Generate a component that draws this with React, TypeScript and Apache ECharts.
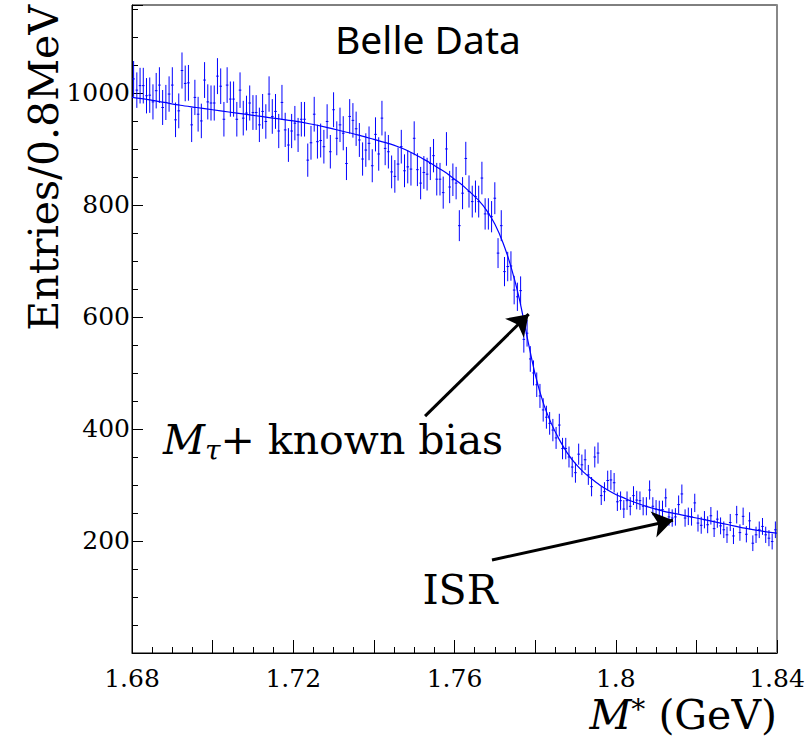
import React, { useEffect, useRef } from "react";
import * as echarts from "echarts";

// Histogram binning (0.8 MeV bins from 1.68 GeV)
const BIN_START = 1.68;
const BIN_WIDTH = 0.0008;

// Entries per bin (200 bins)
const counts: number[] = [
  1025, 1005, 1013, 1013, 995, 996, 984, 1004, 1014, 974,
  983, 998, 1014, 952, 968, 1040, 1017, 1018, 943, 992,
  962, 950, 1023, 984, 982, 982, 1030, 1012, 953, 1014,
  989, 989, 953, 1005,
  955, 964, 982, 965, 965, 943, 967, 949, 998, 958,
  967, 932, 983, 934, 907, 932, 946, 925, 953, 953,
  880, 911, 962, 913, 915, 904, 949, 895, 970, 919,
  943, 928, 874,
  958, 951, 936, 916, 882, 898, 910, 870, 926, 891,
  955, 901, 895, 859, 851, 873, 904, 861, 868, 864,
  919, 863, 839, 858, 855, 874, 888, 846, 846, 822,
  900, 832, 845,
  839, 763, 821, 883, 824, 806, 815, 806, 848, 784,
  784, 779, 812, 714, 763, 681, 690, 691, 648, 636,
  647, 560, 571, 525, 500, 479, 459, 434, 421, 410,
  398, 384,
  407, 365, 365, 350, 332, 322, 355, 336, 345, 318,
  297, 350, 357, 281, 288, 308, 309, 304, 270, 272,
  257, 272, 262, 281, 273, 272, 262, 262, 291, 262,
  257, 256, 256, 277,
  243, 241, 243, 265, 284, 241, 244, 243, 268, 232,
  228, 238, 229, 245, 222, 239, 227, 220, 211, 233,
  209, 247, 215, 244, 212, 236, 196, 211, 220, 226,
  211, 205, 199, 220,
];

// Fit curve
const fitMass: number[] = [
  1.68, 1.684, 1.688, 1.692, 1.696, 1.7, 1.704, 1.708, 1.712, 1.716,
  1.72, 1.724, 1.728, 1.732, 1.736, 1.74, 1.744, 1.746, 1.748, 1.75,
  1.752, 1.754, 1.756, 1.758, 1.76, 1.762, 1.764, 1.766, 1.768, 1.77,
  1.772, 1.774, 1.776, 1.778, 1.78, 1.782, 1.784, 1.786, 1.788, 1.79,
  1.792, 1.794, 1.796, 1.798, 1.8, 1.802, 1.804, 1.808, 1.812, 1.816,
  1.82, 1.824, 1.828, 1.832, 1.836, 1.84,
];
const fitValue: number[] = [
  992, 988, 983, 978, 974, 970, 966, 962, 958, 954,
  950, 945, 939, 932, 925, 917, 909, 904, 898, 891,
  883, 875, 866, 857, 846, 835, 822, 808, 790, 766,
  733, 690, 635, 565, 498, 447, 410, 381, 357, 338,
  323, 311, 300, 291, 283, 277, 271, 261, 253, 247,
  241, 235, 229, 223, 218, 214,
];

// Axis settings
const X_MIN = 1.68;
const X_MAX = 1.84;
const Y_MIN = 0;
const Y_MAX = 1157;

// Annotation arrows [tail, head] in data coordinates
const arrowBias: number[][] = [[1.7527, 423], [1.7784, 605]];
const arrowISR: number[][] = [[1.7693, 166], [1.8142, 237]];

const SERIF = "'DejaVu Serif', 'Liberation Serif', serif";

export default function App() {
  const ref = useRef<HTMLDivElement>(null);

  useEffect(() => {
    document.body.style.margin = "0";
    const chart = echarts.init(ref.current!, null, { renderer: "svg" });

    const points = counts.map((c, i) => [
      BIN_START + BIN_WIDTH * (i + 0.5),
      c,
      Math.sqrt(c),
    ]);
    const fit = fitMass.map((m, i) => [m, fitValue[i]]);

    const xLabelFmt = (v: number) => {
      const k = Math.round((v - X_MIN) / 0.02);
      return k % 2 === 0 ? String(parseFloat(v.toFixed(2))) : "";
    };
    const yLabelFmt = (v: number) =>
      v > 0 && Math.abs(v % 200) < 1e-6 ? String(v) : "";

    const arrowLine = (a: number[][]) => [
      { coord: a[0], symbol: "none" },
      { coord: a[1], symbol: "arrow", symbolSize: 20 },
    ];

    chart.setOption({
      animation: false,
      backgroundColor: "#ffffff",
      grid: {
        left: 132,
        right: 32,
        top: 5,
        bottom: 85,
        show: true,
        borderColor: "#000",
        borderWidth: 1,
        outerBoundsMode: "none",
      },
      xAxis: [
        {
          type: "value",
          min: X_MIN,
          max: X_MAX,
          interval: 0.02,
          position: "bottom",
          axisLine: { show: true, lineStyle: { color: "#000", width: 1 } },
          axisTick: { show: true, inside: true, length: 13, lineStyle: { color: "#000" } },
          axisLabel: {
            formatter: xLabelFmt,
            fontFamily: SERIF,
            fontSize: 25,
            lineHeight: 24,
            color: "#000",
            margin: 13,
          },
          splitLine: { show: false },
        },
        {
          type: "value",
          min: X_MIN,
          max: X_MAX,
          interval: 0.005,
          position: "bottom",
          axisLine: { show: false },
          axisTick: { show: true, inside: true, length: 6, lineStyle: { color: "#000" } },
          axisLabel: { show: false },
          splitLine: { show: false },
        },
      ],
      yAxis: [
        {
          type: "value",
          min: Y_MIN,
          max: Y_MAX,
          interval: 200,
          position: "left",
          axisLine: { show: true, lineStyle: { color: "#000", width: 1 } },
          axisTick: { show: true, inside: true, length: 11, lineStyle: { color: "#000" } },
          axisLabel: {
            formatter: yLabelFmt,
            fontFamily: SERIF,
            fontSize: 25,
            color: "#000",
            margin: 2,
          },
          splitLine: { show: false },
        },
        {
          type: "value",
          min: Y_MIN,
          max: Y_MAX,
          interval: 50,
          position: "left",
          axisLine: { show: false },
          axisTick: { show: true, inside: true, length: 6, lineStyle: { color: "#000" } },
          axisLabel: { show: false },
          splitLine: { show: false },
        },
        {
          type: "value",
          min: Y_MIN,
          max: Y_MAX,
          position: "right",
          axisLine: { show: true, lineStyle: { color: "#888", width: 2 } },
          axisTick: { show: false },
          axisLabel: { show: false },
          splitLine: { show: false },
        },
      ],
      series: [
        {
          type: "custom",
          xAxisIndex: 0,
          yAxisIndex: 0,
          silent: true,
          data: points,
          renderItem: (params: any, api: any) => {
            const x = api.value(0);
            const y = api.value(1);
            const e = api.value(2);
            const p = api.coord([x, y]);
            const t = api.coord([x, y + e]);
            const b = api.coord([x, y - e]);
            return {
              type: "group",
              children: [
                {
                  type: "line",
                  shape: { x1: p[0], y1: t[1], x2: p[0], y2: b[1] },
                  style: { stroke: "#0000ff", lineWidth: 1 },
                },
                {
                  type: "line",
                  shape: { x1: p[0] - 1.3, y1: p[1], x2: p[0] + 1.3, y2: p[1] },
                  style: { stroke: "#0000ff", lineWidth: 1 },
                },
              ],
            };
          },
        },
        {
          type: "line",
          xAxisIndex: 0,
          yAxisIndex: 0,
          data: fit,
          smooth: 0.3,
          showSymbol: false,
          silent: true,
          lineStyle: { color: "#0000ff", width: 1.2 },
          markLine: {
            silent: true,
            animation: false,
            label: { show: false },
            emphasis: { disabled: true },
            lineStyle: { color: "#000", width: 3, type: "solid" },
            data: [arrowLine(arrowBias), arrowLine(arrowISR)],
          },
          z: 3,
        },
      ],
      graphic: [
        {
          type: "text",
          x: 335,
          y: 38,
          style: {
            text: "Belle Data",
            fontFamily: "'Noto Sans', 'DejaVu Sans', sans-serif",
            fontSize: 39,
            fill: "#000",
            align: "left",
            verticalAlign: "middle",
          },
        },
        {
          type: "text",
          x: 44,
          y: 5,
          rotation: Math.PI / 2,
          style: {
            text: "Entries/0.8MeV",
            fontFamily: SERIF,
            fontSize: 41,
            fill: "#000",
            align: "right",
            verticalAlign: "middle",
          },
        },
        {
          type: "text",
          x: 163,
          y: 440,
          style: {
            text: "{i|M}{s|τ}{n|+ known bias}",
            align: "left",
            verticalAlign: "middle",
            rich: {
              i: { fontFamily: SERIF, fontStyle: "italic", fontSize: 41, lineHeight: 48, fill: "#000" },
              s: { fontFamily: SERIF, fontStyle: "italic", fontSize: 28, lineHeight: 28, verticalAlign: "bottom", fill: "#000" },
              n: { fontFamily: SERIF, fontSize: 41, lineHeight: 48, fill: "#000" },
            },
          },
        },
        {
          type: "text",
          x: 460,
          y: 590,
          style: {
            text: "ISR",
            fontFamily: SERIF,
            fontSize: 41,
            fill: "#000",
            align: "center",
            verticalAlign: "middle",
          },
        },
        {
          type: "text",
          x: 777,
          y: 715,
          style: {
            text: "{i|M}{p|*}{n| (GeV)}",
            align: "right",
            verticalAlign: "middle",
            rich: {
              i: { fontFamily: SERIF, fontStyle: "italic", fontSize: 41, lineHeight: 40, fill: "#000" },
              p: { fontFamily: SERIF, fontSize: 28, lineHeight: 26, verticalAlign: "top", fill: "#000" },
              n: { fontFamily: SERIF, fontSize: 41, lineHeight: 40, fill: "#000" },
            },
          },
        },
      ],
    });

    return () => {
      chart.dispose();
    };
  }, []);

  return <div ref={ref} style={{ width: 809, height: 738 }} />;
}
